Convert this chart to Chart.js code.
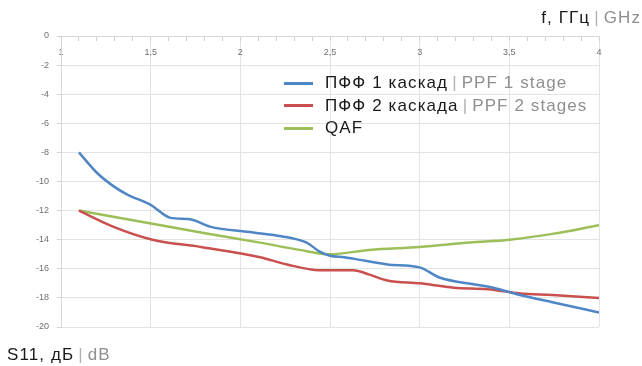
<!DOCTYPE html>
<html>
<head>
<meta charset="utf-8">
<script src="https://cdn.jsdelivr.net/npm/chart.js@4/dist/chart.umd.min.js"></script>
<style>
  html, body { margin: 0; padding: 0; background: #fff; }
  #wrap { position: relative; width: 642px; height: 366px; font-family: "Liberation Sans", Arial, sans-serif; }
  canvas { position: absolute; left: 0; top: 0; }
  .txt { position: absolute; font-size: 17px; line-height: 20px; letter-spacing: 1.1px; color: #1a1a1a; white-space: nowrap; }
  .sep { color: #b0b0b0; margin: 0 4px; }
  .en { color: #8f8f8f; }
  .legend { position: absolute; left: 284px; top: 72px; }
  .row { height: 22.5px; font-size: 17px; letter-spacing: 1.1px; color: #1a1a1a; white-space: nowrap; display: flex; align-items: center; }
  .swatch { display: inline-block; width: 29px; height: 3px; margin-right: 12px; }
</style>
</head>
<body>
<div id="wrap">
  <canvas id="c" width="642" height="366"></canvas>
  <div class="txt" style="right:1px; top:8px;">f, ГГц<span class="sep">|</span><span class="en">GHz</span></div>
  <div class="txt" style="left:7px; top:345px;">S11, дБ<span class="sep">|</span><span class="en">dB</span></div>
  <div class="legend" id="legend"></div>
</div>
<script>
// Frequency axis, GHz
const freqTicks = [1, 1.5, 2, 2.5, 3, 3.5, 4];
const freqTickLabels = ['1', '1,5', '2', '2,5', '3', '3,5', '4'];
// S11 axis, dB
const s11Ticks = [0, -2, -4, -6, -8, -10, -12, -14, -16, -18, -20];

// ПФФ 1 каскад | PPF 1 stage
const freqPpf1 = [1.1, 1.2, 1.29, 1.37, 1.5, 1.61, 1.72, 1.83, 2.07, 2.29, 2.37, 2.44, 2.5, 2.58, 2.63, 2.82, 3.0, 3.11, 3.32, 3.41, 3.56, 3.74, 4.0];
const s11Ppf1  = [-8.0, -9.4, -10.3, -10.9, -11.6, -12.5, -12.6, -13.1, -13.5, -13.9, -14.2, -14.8, -15.1, -15.2, -15.3, -15.7, -15.9, -16.6, -17.1, -17.3, -17.8, -18.3, -19.0];

// ПФФ 2 каскада | PPF 2 stages
const freqPpf2 = [1.1, 1.29, 1.51, 1.78, 2.11, 2.26, 2.44, 2.63, 2.72, 2.82, 3.0, 3.19, 3.38, 3.56, 3.74, 4.0];
const s11Ppf2  = [-12.0, -13.1, -14.0, -14.5, -15.2, -15.7, -16.1, -16.1, -16.4, -16.8, -17.0, -17.3, -17.4, -17.7, -17.8, -18.0];

// QAF
const freqQaf = [1.1, 1.51, 1.78, 2.11, 2.33, 2.5, 2.72, 3.0, 3.28, 3.5, 3.74, 4.0];
const s11Qaf  = [-12.0, -12.9, -13.5, -14.2, -14.7, -15.0, -14.7, -14.5, -14.2, -14.0, -13.6, -13.0];

const seriesNames = [
  ['ПФФ 1 каскад', 'PPF 1 stage'],
  ['ПФФ 2 каскада', 'PPF 2 stages'],
  ['QAF', '']
];
const seriesColors = ['#4f86c6', '#c9504f', '#9cbf5a'];

function pts(xs, ys) { return xs.map((x, i) => ({ x: x, y: ys[i] })); }

const datasets = [
  { data: pts(freqPpf1, s11Ppf1) },
  { data: pts(freqPpf2, s11Ppf2) },
  { data: pts(freqQaf, s11Qaf) }
].map((d, i) => Object.assign(d, {
  label: seriesNames[i][0],
  borderColor: seriesColors[i],
  backgroundColor: seriesColors[i],
  borderWidth: 2.5,
  pointRadius: 0,
  tension: 0.3,
  cubicInterpolationMode: 'monotone'
}));

// legend with bilingual labels
const legendEl = document.getElementById('legend');
seriesNames.forEach((n, i) => {
  const row = document.createElement('div');
  row.className = 'row';
  const sw = document.createElement('span');
  sw.className = 'swatch';
  sw.style.background = seriesColors[i];
  row.appendChild(sw);
  row.appendChild(document.createTextNode(n[0]));
  if (n[1]) {
    const s = document.createElement('span'); s.className = 'sep'; s.textContent = '|';
    const e = document.createElement('span'); e.className = 'en'; e.textContent = n[1];
    row.appendChild(s); row.appendChild(e);
  }
  legendEl.appendChild(row);
});

const near = (v, arr) => arr.some(t => Math.abs(t - v) < 1e-6);

new Chart(document.getElementById('c'), {
  type: 'line',
  data: { datasets },
  options: {
    responsive: false,
    animation: false,
    events: [],
    layout: { padding: { top: 36, bottom: 39, left: 0, right: 43 } },
    plugins: { legend: { display: false }, tooltip: { enabled: false } },
    scales: {
      x: {
        type: 'linear',
        position: { y: 0 },
        min: 1, max: 4,
        afterBuildTicks: (s) => {
          const t = [];
          for (let i = 0; i <= 30; i++) t.push({ value: Math.round((1 + i * 0.1) * 10) / 10 });
          s.ticks = t;
        },
        ticks: {
          autoSkip: false,
          maxRotation: 0,
          padding: 7,
          color: '#707070',
          font: { family: 'Liberation Sans', size: 9 },
          callback: (v) => {
            const k = freqTicks.findIndex(t => Math.abs(t - v) < 1e-6);
            return k >= 0 ? freqTickLabels[k] : '';
          }
        },
        grid: {
          color: (c) => near(c.tick ? c.tick.value : NaN, freqTicks) ? '#e3e3e3' : 'rgba(0,0,0,0)',
          tickColor: '#cfcfcf',
          tickLength: 4,
          lineWidth: 1
        },
        border: { display: true, color: '#d6d6d6' }
      },
      y: {
        type: 'linear',
        min: -20, max: 0,
        afterBuildTicks: (s) => { s.ticks = s11Ticks.map(v => ({ value: v })); },
        afterFit: (s) => { s.width = 61; },
        ticks: {
          color: '#707070',
          padding: 8,
          font: { family: 'Liberation Sans', size: 9 }
        },
        grid: { color: '#e3e3e3', tickColor: '#d0d0d0', tickLength: 4, lineWidth: 1 },
        border: { display: true, color: '#d6d6d6' }
      }
    }
  }
});
</script>
</body>
</html>
